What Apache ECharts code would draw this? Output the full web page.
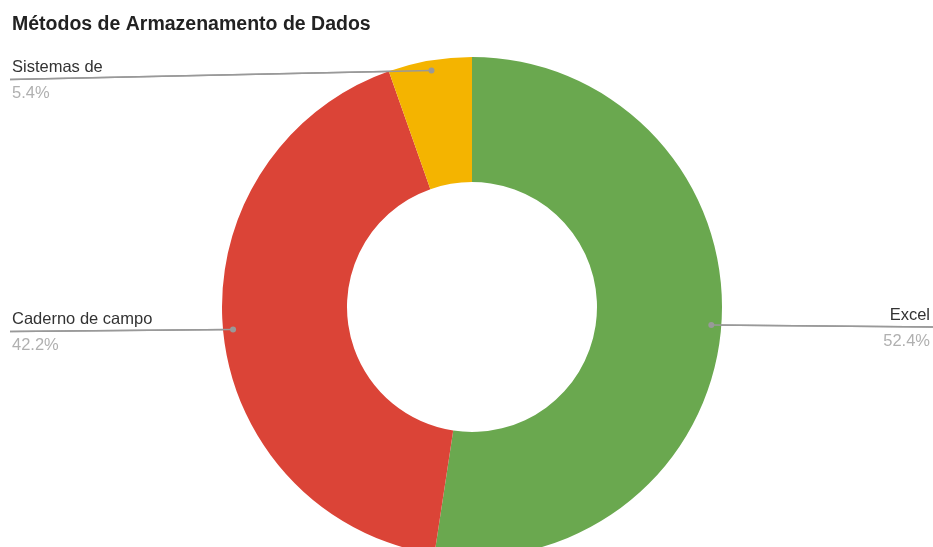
<!DOCTYPE html>
<html>
<head>
    <meta charset="utf-8">
    <title>Métodos de Armazenamento de Dados</title>
    <script src="https://cdn.jsdelivr.net/npm/echarts@6/dist/echarts.min.js"></script>
    <style>
        html, body { margin: 0; padding: 0; background: #fff; }
        #main { width: 933px; height: 547px; }
    </style>
</head>
<body>
<div id="main"></div>
<script>
    // dados
    var categorias = ['Excel', 'Caderno de campo', 'Sistemas de'];
    var percentuais = [52.4, 42.2, 5.4];
    var cores = ['#6aa84f', '#db4437', '#f4b400'];

    var myChart = echarts.init(document.getElementById('main'));
    var pontos = [];

    var dados = categorias.map(function (nome, i) {
        return { name: nome, value: percentuais[i], itemStyle: { color: cores[i] } };
    });

    var option = {
        animation: false,
        title: {
            text: 'Métodos de Armazenamento de Dados',
            left: 7,
            top: 10,
            textStyle: { fontFamily: 'Liberation Sans', fontSize: 19.5, fontWeight: 'bold', color: '#222' }
        },
        series: [{
            type: 'pie',
            center: [472, 307],
            radius: [125, 250],
            startAngle: 90,
            clockwise: true,
            data: dados,
            label: {
                show: true,
                alignTo: 'edge',
                edgeDistance: 12,
                formatter: function (p) {
                    return '{nome|' + p.name + '}\n{pct|' + p.value.toFixed(1) + '%}';
                },
                rich: {
                    nome: { fontFamily: 'Liberation Sans', fontSize: 16.5, color: '#333', lineHeight: 26 },
                    pct: { fontFamily: 'Liberation Sans', fontSize: 16.5, color: '#b0b0b0', lineHeight: 26 }
                }
            },
            labelLine: {
                show: true,
                length: 10,
                length2: 20,
                lineStyle: { color: '#999', width: 1.5 }
            },
            labelLayout: function (params) {
                var isLeft = params.labelRect.x < myChart.getWidth() / 2;
                var pts = params.labelLinePoints;
                // ponto inicial um pouco para dentro da fatia
                var dx = pts[1][0] - pts[0][0], dy = pts[1][1] - pts[0][1];
                var len = Math.sqrt(dx * dx + dy * dy) || 1;
                var sx = pts[0][0] - dx / len * 10;
                var sy = pts[0][1] - dy / len * 10;
                var y = sy + (sy < 150 ? 9 : 2);
                var ex = isLeft ? 10 : 933;
                pontos.push([sx, sy, ex, y]);
                return {
                    x: isLeft ? 12 : 930,
                    y: y + 1,
                    align: isLeft ? 'left' : 'right',
                    verticalAlign: 'middle',
                    labelLinePoints: [[sx, sy], [(sx + ex) / 2, (sy + y) / 2], [ex, y]]
                };
            }
        }]
    };

    myChart.setOption(option);

    // linha e ponto por cima das fatias
    setTimeout(function () {
        var g = [];
        pontos.slice(0, categorias.length).forEach(function (p) {
            g.push({
                type: 'line',
                shape: { x1: p[0], y1: p[1], x2: p[2], y2: p[3] },
                style: { stroke: '#999', lineWidth: 1.5 },
                z: 100
            });
            g.push({
                type: 'circle',
                shape: { cx: p[0], cy: p[1], r: 3 },
                style: { fill: '#999' },
                z: 101
            });
        });
        myChart.setOption({ graphic: g });
    }, 0);
</script>
</body>
</html>
